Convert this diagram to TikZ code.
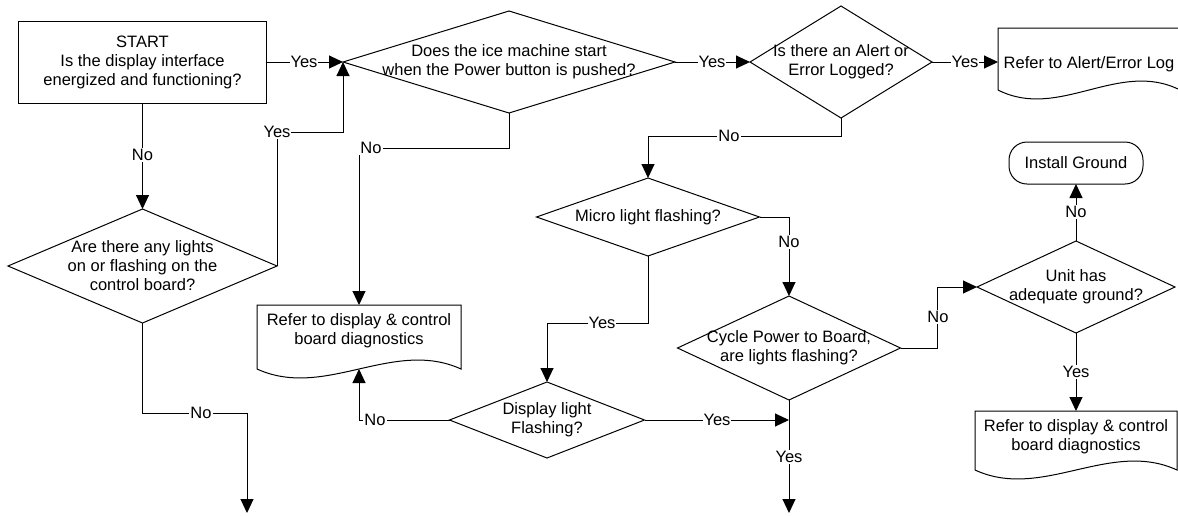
\documentclass[tikz,border=0pt]{standalone}
\usepackage{fontspec}
\setmainfont{Liberation Sans}
\usetikzlibrary{arrows.meta,shapes.geometric,calc}
\begin{document}
\begin{tikzpicture}[x=1pt,y=-1pt,
  every node/.style={font=\fontsize{16.5}{19}\selectfont, align=center},
  ln/.style={line width=1pt, draw=black},
  arr/.style={ln, -{Triangle[length=14pt,width=13pt]}},
  dia/.style={diamond, draw, line width=1pt, inner sep=0pt, outer sep=0pt},
  procbox/.style={rectangle, draw, line width=1pt, inner sep=0pt, outer sep=0pt},
  docbox/.style={rectangle, draw=none, inner sep=0pt, outer sep=0pt},
  termbox/.style={rectangle, rounded corners=18pt, draw, line width=1pt, inner sep=0pt, outer sep=0pt},
  lbl/.style={fill=white, inner sep=1pt}
]
\useasboundingbox (0,0) rectangle (1178,515);

% ---- shapes ----
\node[procbox, minimum width=248pt, minimum height=82pt] (start) at (142.5,62)
  {START\\Is the display interface\\energized and functioning?};
\node[dia, minimum width=332pt, minimum height=102pt,
  label={center:{Does the ice machine start\\when the Power button is pushed?}}] (d1) at (509,62) {};
\node[dia, minimum width=182pt, minimum height=112pt,
  label={center:{Is there an Alert or\\Error Logged?}}] (d2) at (841,62) {};
\node[docbox, minimum width=182pt, minimum height=62pt, anchor=north] (doc2) at (1089,28) {};
\node (doc2t) at (1089,64) {Refer to Alert/Error Log};
\node[dia, minimum width=269pt, minimum height=114pt,
  label={center:{Are there any lights\\on or flashing on the\\control board?}}] (lights) at (142.5,266) {};
\node[docbox, minimum width=204pt, minimum height=64pt, anchor=north] (doc1) at (359,305) {};
\node (doc1t) at (359,331) {Refer to display \& control\\board diagnostics};
\node[dia, minimum width=223pt, minimum height=78pt,
  label={center:{Micro light flashing?}}] (micro) at (648,217) {};
\node[dia, minimum width=223pt, minimum height=104pt,
  label={center:{Cycle Power to Board,\\are lights flashing?}}] (cycle) at (789,348) {};
\node[dia, minimum width=195pt, minimum height=76pt,
  label={center:{Display light\\Flashing?}}] (display) at (547,420) {};
\node[dia, minimum width=198pt, minimum height=92pt,
  label={center:{Unit has\\adequate ground?}}] (unit) at (1076,287) {};
\node[termbox, minimum width=134pt, minimum height=42pt] (install) at (1076,163) {Install Ground};
\node[docbox, minimum width=202pt, minimum height=59pt, anchor=north] (doc3) at (1076,411) {};
\node (doc3t) at (1076,436.5) {Refer to display \& control\\board diagnostics};

% document outlines
\draw[ln] (doc1.south west) -- (doc1.north west) -- (doc1.north east) -- (doc1.south east)
  .. controls +(-68,-31) and +(68,31) .. (doc1.south west);
\draw[ln] (doc2.south west) -- (doc2.north west) -- (doc2.north east) -- (doc2.south east)
  .. controls +(-61,-31) and +(61,31) .. (doc2.south west);
\draw[ln] (doc3.south west) -- (doc3.north west) -- (doc3.north east) -- (doc3.south east)
  .. controls +(-67,-31) and +(67,31) .. (doc3.south west);

% free ends
\coordinate (end1) at (247,513);
\coordinate (end2) at (789,513);
\coordinate (c1) at (cycle.south |- display.east);

% ---- connectors ----
\draw[arr] (start.east) -- (d1.west);
\draw[arr] (d1.east) -- (d2.west);
\draw[arr] (d2.east) -- (d2.east -| doc2.west);
\draw[arr] (d2.south) -- ++(0,18) -| (micro.north);
\draw[arr] (d1.south) -- ++(0,35) -| (doc1.north);
\draw[arr] (start.south) -- (lights.north);
\draw[arr] (lights.east) -- ++(0,-134) -| (d1.west);
\draw[arr] (lights.south) -- ++(0,90) -| (end1);
\draw[arr] (micro.east) -| (cycle.north);
\draw[arr] (micro.south) -- ++(0,67) -| (display.north);
\draw[arr] (display.west) -| (doc1.south);
\draw[arr] (display.east) -- (c1);
\draw[arr] (cycle.south) -- (end2);
\draw[arr] (cycle.east) -- ++(37,0) |- (unit.west);
\draw[arr] (unit.north) -- (install.south);
\draw[arr] (unit.south) -- (doc3.north);

% ---- labels ----
\node[lbl] (l1) at (304,62) {Yes};
\node[lbl] (l2) at (712,62) {Yes};
\node[lbl] (l3) at (965,62) {Yes};
\node[lbl] (l4) at (729,136) {No};
\node[lbl] (l5) at (371,148) {No};
\node[lbl] (l6) at (142.5,155) {No};
\node[lbl] (l7) at (277,132) {Yes};
\node[lbl] (l8) at (201,413) {No};
\node[lbl] (l9) at (789,242) {No};
\node[lbl] (l10) at (602,323) {Yes};
\node[lbl] (l11) at (375,420) {No};
\node[lbl] (l12) at (717,420) {Yes};
\node[lbl] (l13) at (789,457) {Yes};
\node[lbl] (l14) at (938,317) {No};
\node[lbl] (l15) at (1076,212) {No};
\node[lbl] (l16) at (1076,372) {Yes};
\end{tikzpicture}
\end{document}
